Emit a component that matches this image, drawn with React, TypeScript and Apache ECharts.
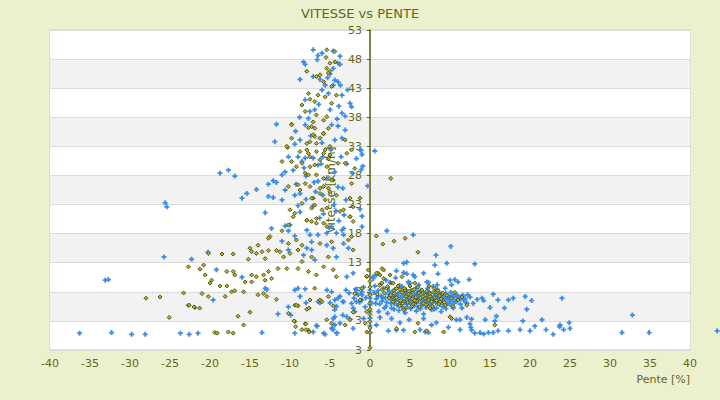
import React, { useEffect, useRef } from "react";
import * as echarts from "echarts";

const TITLE = "VITESSE vs PENTE";
const X_NAME = "Pente [%]";
const Y_NAME = "Vitesse [km/h]";
const Y_TICK_VALUES = [-2, 3, 8, 13, 18, 23, 28, 33, 38, 43, 48, 53];
const Y_TICK_LABELS = ["3", "3", "8", "13", "18", "23", "28", "33", "38", "43", "48", "53"];

const blueSeries: number[][] = [
  [-36.3, 0.9], [-32.3, 1.0], [-29.8, 0.7], [-28.1, 0.7], [-23.7, 0.9], [-22.6, 0.7], [-21.5, 0.9], [-13.5, 1.0],
  [-33.1, 10.0], [-32.7, 10.1], [-25.6, 23.3], [-25.4, 22.6], [-25.75, 14.0], [-22.3, 13.6], [-20.25, 14.8],
  [-19.2, 11.8], [-16.0, 10.5], [-19.6, 6.6],
  [-18.75, 28.4], [-17.7, 28.9], [-16.9, 27.9], [-12.7, 26.5], [-12.1, 27.1], [-11.7, 26.8], [-14.2, 25.6],
  [-15.4, 24.9], [-16.0, 24.1], [-12.7, 24.4], [-12.1, 24.2], [-11.0, 28.1], [-10.6, 28.6], [-9.6, 28.9],
  [-11.0, 23.8], [-10.6, 25.5], [-9.4, 24.6], [-8.75, 24.9], [-13.1, 21.6], [-12.3, 18.9], [-10.6, 19.3],
  [-11.0, 16.7], [-10.2, 18.5], [-9.4, 17.6], [-7.5, 17.8], [-7.3, 16.6], [-6.5, 17.8], [-5.4, 18.1],
  [-4.8, 19.2], [-4.2, 18.1], [-3.5, 18.6], [-3.3, 17.8], [-3.3, 18.9], [-1.0, 19.2], [-7.9, 15.5],
  [-7.3, 15.2], [-10.2, 15.2], [-6.9, 13.5], [-8.3, 14.3], [-5.4, 16.0], [-4.6, 15.5], [-3.3, 16.3],
  [-4.2, 14.0], [-2.7, 15.5],
  [-8.0, 27.9], [-6.5, 27.0], [-4.4, 28.6], [-3.4, 25.8], [-5.9, 24.6], [-7.1, 22.75], [-4.25, 21.9],
  [-3.25, 21.2], [-5.1, 19.0], [-7.9, 18.6], [-8.75, 21.7], [-10.0, 19.5], [-9.25, 26.5], [-3.6, 31.2],
  [-2.9, 30.0], [-4.9, 32.4], [-8.25, 29.3], [-1.1, 32.3], [-1.0, 31.6], [-0.3, 26.2], [-1.25, 22.2],
  [-1.0, 21.0], [-1.1, 29.0],
  [-6.0, 33.6], [-7.4, 34.8], [-4.1, 37.7], [-6.4, 40.2], [-8.8, 38.0], [-5.4, 27.6], [-6.8, 25.2],
  [-4.5, 23.0], [-8.0, 23.9], [-6.3, 20.7], [-3.9, 20.2], [-5.8, 21.4], [-7.0, 26.8], [-4.0, 26.0],
  [-9.0, 22.8], [-3.0, 23.8], [-2.2, 28.4], [-6.1, 30.0], [-7.7, 37.8], [-3.9, 39.9], [-5.3, 44.8],
  [-6.6, 47.9], [-2.8, 42.7], [-9.3, 35.6],
  [-12.9, 8.4], [-9.4, 8.3], [-9.0, 8.6], [-8.1, 8.5], [-8.75, 7.2], [-6.5, 6.3], [-5.4, 8.3], [-4.8, 8.0],
  [-4.4, 6.6], [-3.75, 7.2], [-3.3, 6.3], [-4.2, 5.5], [-2.9, 10.6], [-2.1, 11.2], [-1.7, 8.3], [-1.0, 6.6],
  [-0.6, 5.4], [-4.4, 3.7], [-3.75, 2.6], [-4.2, 0.9], [-4.8, 1.7], [-5.8, 0.9], [-6.7, 2.2], [-9.4, 0.9],
  [-11.5, 4.2], [-10.2, 5.4], [-13.1, 8.6], [-2.1, 1.7], [0.4, 10.6], [-2.9, 3.7],
  [-9.9, 4.0], [-7.1, 1.1], [-6.6, 2.1], [-5.6, 0.7], [-4.7, 1.7], [-4.6, 3.4], [-4.4, 2.3], [-4.1, 0.9],
  [-4.4, 4.9], [-3.4, 4.0], [-2.1, 5.2], [-2.5, 3.3], [-5.0, 6.1], [-6.25, 6.1], [-8.0, 6.1],
  [-4.0, 6.9], [-3.4, 6.3], [-1.7, 6.3], [-1.0, 7.5], [-1.9, 4.6], [-0.8, 3.4], [-4.6, 1.5],
  [-7.1, 49.6], [-6.5, 48.6], [-6.0, 49.0], [-4.6, 49.4], [-3.75, 48.5], [-8.3, 47.5], [-8.1, 47.1],
  [-4.0, 47.3], [-3.75, 47.1], [-4.6, 46.4], [-5.0, 45.4], [-7.1, 45.0], [-8.75, 44.5], [-6.25, 44.5],
  [-4.4, 44.4], [-4.0, 44.1], [-5.6, 43.5], [-4.6, 43.5], [-3.7, 43.5], [-6.0, 42.7], [-5.2, 42.1],
  [-3.5, 41.8], [-8.1, 41.0], [-2.5, 40.4], [-2.3, 39.8], [-7.5, 39.0], [-6.9, 39.3], [-5.0, 39.3],
  [-3.5, 38.7], [-3.1, 38.2], [-8.1, 36.7], [-4.8, 36.7], [-11.7, 36.8], [-4.0, 36.5], [-3.1, 35.8],
  [-5.8, 35.2], [-11.9, 33.8], [-8.75, 34.1], [-9.4, 33.4], [-3.5, 34.4], [-4.4, 34.1], [-1.25, 32.4],
  [0.6, 32.2], [-10.2, 31.2], [-9.0, 31.2], [-8.1, 31.0], [-7.1, 31.0], [-5.9, 31.2], [-1.7, 30.9],
  [-0.9, 29.6], [-8.5, 30.4], [-6.5, 29.8],
  [2.1, 18.5], [5.4, 17.8],
  [10.1, 15.8], [8.25, 14.3], [9.6, 12.9], [13.1, 12.8], [4.2, 12.9], [4.6, 13.1], [8.1, 12.6], [3.3, 11.6],
  [4.2, 11.3], [4.6, 11.1], [6.7, 11.2], [8.5, 11.1], [5.4, 10.9], [5.6, 10.6], [10.0, 10.0], [10.6, 10.1],
  [10.2, 9.2], [11.0, 9.7], [12.4, 10.1], [4.8, 9.7], [5.0, 9.5], [7.1, 9.7], [7.3, 9.6], [8.4, 9.2],
  [0.8, 10.9], [0.4, 10.3],
  [15.4, 7.6], [16.0, 6.6], [17.3, 6.6], [17.9, 6.9], [19.4, 7.2], [20.2, 6.5], [24.0, 6.9], [14.0, 6.9],
  [14.2, 6.5], [13.4, 6.7], [12.9, 6.0], [12.1, 6.0], [12.5, 7.1], [11.5, 7.2], [10.8, 7.3], [11.25, 6.9],
  [11.7, 6.6], [15.0, 5.3], [16.8, 5.2], [19.6, 5.0], [15.8, 3.8], [15.6, 3.0], [14.4, 3.2], [12.7, 3.3],
  [12.5, 2.5], [12.6, 1.9], [12.1, 3.6], [11.25, 3.2], [10.8, 3.2], [10.6, 6.3], [19.1, 3.0], [21.5, 3.2],
  [20.6, 2.1], [23.7, 2.0], [24.2, 1.5], [24.9, 2.7], [25.0, 1.7], [22.0, 1.5], [22.9, 0.7], [20.0, 1.3],
  [18.75, 1.5], [17.3, 1.3], [16.0, 1.3], [15.4, 1.0], [14.8, 1.0], [14.2, 0.75], [13.75, 1.0], [13.1, 0.9],
  [12.7, 1.4], [11.25, 1.5], [9.8, 1.9], [8.3, 2.7], [7.3, 1.0], [6.9, 1.1], [7.7, 2.3], [6.25, 1.5],
  [4.2, 1.4], [3.3, 1.4], [2.3, 1.3], [0.8, 2.3], [1.25, 3.6], [2.7, 3.4], [3.75, 2.7], [4.9, 3.2], [6.7, 3.4],
  [31.5, 1.0], [32.8, 4.0], [34.9, 1.0], [43.4, 1.3], [23.75, 2.3], [11.5, 5.2], [10.4, 5.2],
  [0.5, 7.9], [0.8, 6.8], [1.0, 8.2], [1.2, 5.9], [1.4, 7.3], [1.5, 6.4], [1.7, 8.6], [1.9, 7.0], [2.0, 5.5],
  [2.1, 6.2], [2.3, 7.6], [2.4, 8.1], [2.6, 6.7], [2.7, 5.2], [2.9, 7.2], [3.0, 6.0], [3.1, 8.4], [3.3, 6.9],
  [3.4, 5.7], [3.5, 7.7], [3.6, 6.4], [3.8, 7.1], [3.9, 8.0], [4.0, 5.4], [4.1, 6.6], [4.2, 7.4], [4.3, 6.1],
  [4.5, 8.3], [4.6, 7.0], [4.7, 5.9], [4.8, 6.8], [4.9, 7.6], [5.0, 6.3], [5.1, 5.1], [5.2, 7.2], [5.3, 8.0],
  [5.4, 6.6], [5.5, 5.6], [5.6, 7.5], [5.7, 6.9], [5.8, 6.1], [5.9, 7.9], [6.0, 5.4], [6.1, 6.7], [6.2, 7.3],
  [6.3, 8.2], [6.4, 6.0], [6.5, 7.0], [6.6, 5.8], [6.7, 7.7], [6.8, 6.5], [6.9, 7.1], [7.0, 5.3], [7.1, 6.2],
  [7.2, 7.6], [7.3, 6.8], [7.4, 8.0], [7.5, 5.9], [7.6, 7.2], [7.7, 6.4], [7.8, 5.5], [7.9, 7.0], [8.0, 6.7],
  [8.1, 7.8], [8.2, 6.1], [8.3, 5.2], [8.4, 7.3], [8.5, 6.5], [8.6, 7.9], [8.7, 5.8], [8.8, 6.9], [8.9, 7.5],
  [9.0, 6.2], [9.1, 5.4], [9.2, 7.1], [9.3, 6.6], [9.5, 7.7], [9.6, 5.9], [9.7, 6.8], [9.8, 7.3], [10.0, 6.4],
  [10.1, 7.9], [10.2, 5.6], [10.4, 7.0], [10.5, 6.1], [10.7, 7.6], [10.9, 6.7], [11.1, 7.2], [11.3, 5.9],
  [11.6, 7.4], [11.9, 6.8], [12.2, 7.5], [1.1, 4.6], [2.2, 4.3], [3.6, 4.8], [4.4, 4.4], [5.8, 4.7], [6.7, 4.2],
  [7.7, 4.9], [8.9, 4.6], [1.3, 9.3], [2.5, 9.6], [3.7, 9.1], [0.6, 9.0], [3.2, 10.4], [2.0, 10.0], [6.1, 9.2],
  [7.9, 8.9], [9.4, 8.6], [4.9, 9.4], [-0.5, 7.0], [-1.0, 8.0], [-1.5, 7.5], [-2.0, 6.9], [-1.3, 6.2],
  [-2.6, 7.8], [-0.8, 8.8], [-1.8, 8.5], [-3.0, 8.3], [-2.3, 6.0],
  [0.7, 6.0], [1.6, 6.9], [2.8, 8.0], [3.2, 6.5], [3.9, 5.9], [4.4, 7.8], [5.0, 7.3], [5.5, 6.2], [6.0, 7.6],
  [6.6, 6.3], [7.0, 7.9], [7.6, 6.0], [8.2, 7.4], [8.8, 6.4], [9.4, 7.0], [9.9, 6.0], [10.3, 7.3], [10.8, 6.3],
  [11.4, 6.9], [12.0, 6.2], [1.8, 5.2], [3.0, 5.0], [4.5, 5.2], [6.3, 5.1], [8.0, 5.0], [9.5, 5.1], [2.2, 8.7],
  [4.0, 8.9], [5.7, 8.6], [7.2, 8.6], [8.4, 8.4], [1.0, 7.2], [2.6, 6.0], [3.4, 7.4], [4.7, 6.4], [5.3, 5.8],
  [6.4, 6.8], [7.4, 7.0], [8.6, 6.1], [9.9, 7.0],
  [0, 1.0], [0, 2.2], [0, 3.5], [0, 4.6], [0, 5.8], [0, 6.9], [0, 7.6], [0, 8.3], [0.1, 6.2],
];

const oliveSeries: number[][] = [
  [-5.4, 49.6], [-4.4, 49.3], [-5.5, 48.3], [-4.4, 47.5], [-5.0, 47.3], [-5.4, 46.4], [-7.9, 45.9],
  [-5.0, 45.9], [-6.25, 45.3], [-5.2, 45.6], [-6.7, 45.0], [-5.8, 44.1], [-4.8, 43.3], [-7.7, 42.1],
  [-6.5, 41.8], [-5.6, 41.5], [-4.2, 41.8], [-7.5, 41.1], [-6.9, 40.7], [-4.8, 40.4], [-8.5, 40.1],
  [-8.1, 39.0], [-6.7, 38.4], [-5.4, 38.1], [-5.8, 37.5], [-7.1, 37.2], [-7.7, 36.2], [-6.9, 36.1],
  [-5.2, 36.1], [-9.8, 36.8], [-6.9, 34.7], [-6.25, 34.4], [-7.5, 33.8], [-9.8, 34.4], [-5.0, 33.0],
  [-10.3, 32.8], [-7.9, 32.4], [-6.7, 32.1], [-5.6, 32.4], [-2.9, 31.8], [-7.5, 31.2], [-6.25, 30.7],
  [-5.2, 30.9], [-4.0, 30.1], [-3.1, 30.1], [-7.5, 29.5],
  [-9.8, 36.7], [-7.3, 36.4], [-7.1, 35.0], [-5.8, 35.2], [-7.9, 33.5], [-6.7, 33.5], [-8.75, 32.1],
  [-7.7, 31.8], [-5.8, 31.8], [-5.0, 31.5], [-9.8, 30.4], [-8.5, 30.1], [-6.9, 29.8], [-5.4, 29.5],
  [-8.1, 28.4], [-6.7, 28.1], [-5.8, 27.5], [-4.6, 27.2], [-9.0, 26.4], [-7.5, 26.1], [-6.25, 25.8],
  [-5.0, 25.2], [-7.1, 24.1], [-5.6, 23.8], [-8.5, 23.2], [-7.3, 22.4], [-6.0, 22.1], [-3.75, 21.8],
  [-2.5, 20.9], [-7.9, 20.3], [-6.7, 19.8], [-5.4, 19.2], [-9.6, 20.9], [-10.4, 33.0], [-11.0, 30.4],
  [-10.2, 26.1], [-2.5, 24.1], [-2.3, 32.4], [-1.9, 29.2], [-2.3, 26.6], [-3.1, 34.1],
  [-9.2, 29.5], [-7.7, 28.1], [-8.1, 26.6], [-8.75, 25.5], [-7.3, 24.1], [-6.9, 22.9], [-6.25, 24.9],
  [-5.4, 22.4], [-5.8, 26.1], [-4.8, 27.2], [-4.2, 24.6], [-10.0, 22.1], [-9.4, 21.5], [-7.9, 20.3],
  [-7.3, 20.1], [-6.7, 20.6], [-5.8, 19.8], [-2.5, 20.9], [-2.1, 22.6], [-1.25, 24.1], [-10.2, 19.5],
  [-11.0, 18.5], [-12.5, 17.5], [-12.7, 17.2], [-9.2, 16.9], [-8.5, 16.0], [-6.25, 16.3], [-4.8, 16.6],
  [-2.7, 16.9], [-2.1, 15.2], [-14.0, 16.0], [-15.0, 15.5], [-14.8, 14.9], [-14.2, 14.6], [-13.5, 14.9],
  [-12.7, 15.1], [-11.7, 15.1], [-11.25, 14.9], [-10.0, 14.6], [-9.0, 15.2], [-10.8, 14.0], [-13.1, 13.7],
  [-15.2, 13.6], [-17.1, 14.5], [-18.5, 14.5], [-20.2, 14.6], [-20.8, 12.6], [-21.25, 11.9], [-22.7, 12.3],
  [-20.6, 10.9], [-19.8, 10.0], [-20.0, 9.5], [-18.75, 9.0], [-17.9, 9.0], [-17.9, 11.5], [-17.1, 11.5],
  [-16.9, 10.9], [-17.3, 8.0], [-16.9, 8.2], [-15.8, 8.0], [-15.6, 9.7], [-14.8, 10.9], [-14.8, 9.7],
  [-14.2, 10.6], [-13.3, 10.9], [-12.7, 11.5], [-12.3, 10.3], [-13.1, 10.0], [-11.5, 12.0], [-10.4, 12.0],
  [-9.0, 12.0], [-7.7, 11.5], [-8.5, 13.2], [-7.3, 14.0], [-5.2, 14.0], [-5.8, 12.3], [-6.7, 10.9],
  [-4.6, 11.8], [-4.2, 10.6], [-13.3, 7.7], [-14.0, 7.5], [-12.9, 7.2], [-11.7, 6.7], [-18.1, 7.2],
  [-20.2, 7.2], [-21.0, 7.7], [-23.3, 7.8], [-22.7, 5.7], [-21.9, 5.3], [-16.5, 3.8], [-15.0, 4.5],
  [-15.8, 2.3], [-19.4, 1.0], [-17.7, 1.1], [-17.1, 0.9], [-9.4, 5.7], [-9.0, 5.6], [-10.2, 4.3],
  [-9.4, 2.9], [-8.1, 2.5], [-7.7, 1.4], [-7.5, 6.6], [-6.9, 8.6], [-5.2, 7.2], [-6.25, 6.6], [-4.6, 5.6],
  [-5.4, 3.2], [-4.8, 2.6], [-3.1, 2.3], [-2.5, 3.2], [-1.25, 6.6], [-1.0, 8.6], [-1.9, 7.7], [-0.4, 4.6],
  [-0.6, 2.6], [-2.1, 4.5], [1.0, 11.2], [-0.4, 10.6], [0.8, 17.6], [-10.2, 16.3], [-3.3, 22.1],
  [-2.1, 20.1], [-2.3, 17.5], [-5.2, 25.8],
  [-26.25, 7.1], [-28.0, 6.9], [-19.1, 0.9], [-25.1, 3.6], [-22.6, 5.7], [-22.0, 5.4], [-21.3, 5.2],
  [-9.5, 3.0], [-9.3, 2.0], [-8.5, 1.5], [-8.0, 2.5], [-8.0, 1.5], [-7.6, 1.1], [-9.2, 5.7], [-7.9, 5.0],
  [-7.6, 5.2], [-6.0, 6.3],
  [2.6, 27.5], [4.4, 17.2], [6.0, 14.8], [1.6, 16.2], [3.0, 16.7],
  [1.5, 12.0], [1.7, 11.75], [0.8, 11.2], [1.25, 10.9], [2.5, 10.9], [4.0, 10.6], [-0.4, 10.7], [1.7, 10.3],
  [1.5, 9.5], [2.7, 9.5], [2.9, 9.5], [5.6, 9.5], [2.1, 8.6], [3.3, 8.6], [3.75, 8.4], [4.4, 8.3], [5.2, 8.3],
  [6.25, 8.0], [8.3, 8.0], [9.0, 7.7], [7.5, 7.2], [6.9, 6.9], [8.1, 6.6], [8.75, 6.3], [5.8, 6.3], [3.75, 6.0],
  [3.1, 6.9], [2.5, 7.2], [4.6, 6.6], [5.2, 5.5], [4.2, 4.9], [7.1, 5.7], [7.5, 5.2], [9.4, 5.7], [10.4, 5.5],
  [12.1, 5.7], [10.0, 3.7], [10.2, 3.4], [6.0, 2.6], [3.3, 1.7], [5.6, 1.1], [7.1, 1.3], [9.2, 1.1],
  [15.6, 2.3], [-0.4, 1.1], [-0.2, 11.75],
  [1.8, 7.8], [2.2, 8.9], [2.6, 7.4], [3.0, 8.2], [3.3, 7.0], [3.5, 9.0], [3.8, 6.5], [4.0, 7.9], [4.3, 8.6],
  [4.5, 7.2], [4.7, 6.2], [4.9, 8.1], [5.1, 7.5], [5.3, 6.8], [5.5, 8.4], [5.7, 7.1], [5.9, 6.4], [6.1, 7.8],
  [6.3, 6.9], [6.5, 8.3], [6.7, 6.0], [6.9, 7.4], [7.1, 8.1], [7.3, 6.6], [7.5, 7.7], [7.7, 6.3], [7.9, 7.9],
  [8.1, 7.0], [8.3, 6.5], [8.5, 8.2], [8.7, 7.3], [8.9, 6.8], [9.1, 7.8], [9.3, 6.2], [2.9, 6.3], [3.7, 5.6],
  [4.6, 5.3], [5.4, 5.9], [6.2, 5.4], [7.0, 5.8], [7.8, 5.5], [8.6, 5.9], [2.4, 6.9], [1.5, 8.4], [1.2, 9.1],
  [0.9, 7.6], [5.0, 9.0], [6.0, 8.8], [7.4, 9.0], [8.0, 8.6], [9.6, 7.4], [10.2, 6.9], [10.6, 7.9], [11.0, 6.6],
  [11.5, 7.1], [4.1, 6.0], [5.6, 6.5], [6.6, 7.2], [3.1, 7.7], [4.8, 7.6],
  [0, 1.0], [0, 1.8], [0, 2.9], [0, 4.1], [0, 5.0], [0, 6.0], [0, 7.4], [0, 8.8], [0, 9.8], [0, -1.6],
];

const OLIVE = "#66661a";
const BLUE = "#3a8ce6";
const PLUS = "path://M1.6,0H3.4V1.6H5V3.4H3.4V5H1.6V3.4H0V1.6H1.6Z";

export default function App() {
  const ref = useRef<HTMLDivElement>(null);
  useEffect(() => {
    if (!ref.current) return;
    const chart = echarts.init(ref.current, null, { renderer: "svg" });
    const font = "DejaVu Sans";
    chart.setOption({
      animation: false,
      backgroundColor: "#ebf0cd",
      textStyle: { fontFamily: font },
      title: {
        text: TITLE,
        left: "center",
        top: 2,
        textStyle: { color: OLIVE, fontSize: 13, fontWeight: "normal", fontFamily: font },
      },
      grid: {
        left: 50,
        right: 30,
        top: 30,
        bottom: 50,
        show: true,
        borderColor: "#d9d9d9",
        borderWidth: 1.5,
        backgroundColor: "transparent",
      },
      xAxis: {
        type: "value",
        min: -40,
        max: 40,
        interval: 5,
        name: X_NAME,
        nameLocation: "end",
        nameGap: 0,
        nameTextStyle: {
          color: OLIVE,
          fontSize: 11,
          fontFamily: font,
          align: "right",
          verticalAlign: "top",
          padding: [24, 0, 0, 0],
        },
        axisLine: { onZero: false, lineStyle: { color: "#d9d9d9", width: 1.5 } },
        axisTick: { show: false },
        splitLine: { show: false },
        axisLabel: { color: OLIVE, fontSize: 11, fontFamily: font, margin: 8 },
      },
      yAxis: {
        type: "value",
        min: -2,
        max: 53,
        interval: 5,
        position: "left",
        offset: -320,
        name: Y_NAME,
        nameLocation: "middle",
        nameGap: 30,
        nameTextStyle: { color: OLIVE, fontSize: 12, fontFamily: font },
        axisLine: { show: true, onZero: false, lineStyle: { color: "#5c5c00", width: 1.5 } },
        axisTick: { show: true, length: 3, lineStyle: { color: "#5c5c00" } },
        axisLabel: {
          color: OLIVE,
          fontSize: 11,
          fontFamily: font,
          margin: 8,
          formatter: (v: number) => {
            const i = Y_TICK_VALUES.indexOf(v);
            return i >= 0 ? Y_TICK_LABELS[i] : "";
          },
        },
        splitLine: { show: true, lineStyle: { color: "#dcdcdc", width: 1 } },
        splitArea: { show: true, areaStyle: { color: ["#ffffff", "#f2f2f2"] } },
      },
      series: [
        {
          type: "scatter",
          data: blueSeries,
          symbol: PLUS,
          symbolSize: 5,
          itemStyle: { color: BLUE, opacity: 1 },
          clip: false,
          z: 2,
        },
        {
          type: "scatter",
          data: oliveSeries,
          symbol: "diamond",
          symbolSize: 4,
          itemStyle: { color: "#b4b448", borderColor: "#555500", borderWidth: 1, opacity: 1 },
          clip: false,
          z: 3,
        },
      ],
    });
    return () => chart.dispose();
  }, []);
  return (
    <div
      ref={ref}
      style={{ position: "fixed", left: 0, top: 0, width: 720, height: 400 }}
    />
  );
}
